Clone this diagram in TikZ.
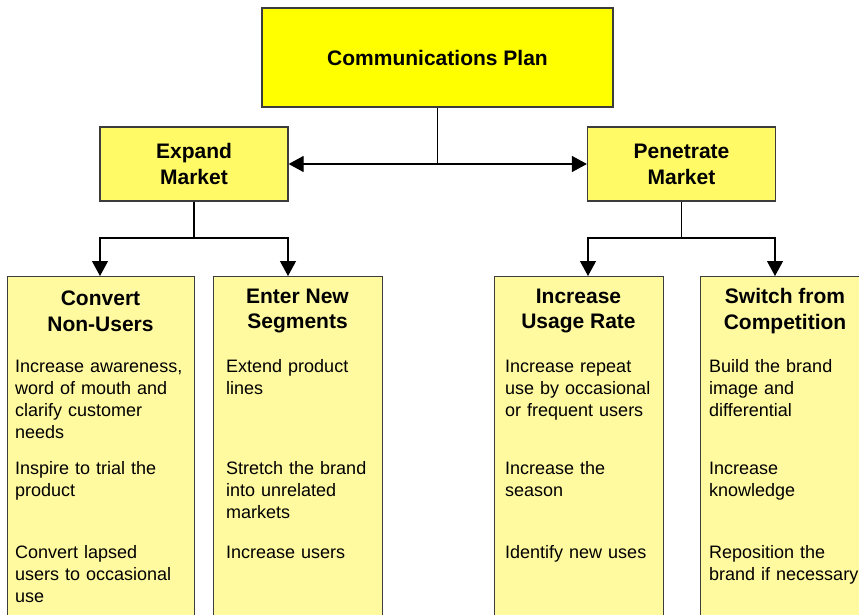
\documentclass[tikz,border=0pt]{standalone}
\usepackage{fontspec}
\setmainfont{Liberation Sans}
\usetikzlibrary{arrows.meta}
\definecolor{topY}{RGB}{255,255,0}
\definecolor{midY}{RGB}{255,250,102}
\definecolor{lowY}{RGB}{255,250,160}
\definecolor{edgeC}{RGB}{60,60,60}
\begin{document}
\begin{tikzpicture}[x=1pt,y=-1pt,
  box/.style={draw=edgeC,line width=1.2pt,inner sep=0pt},
  headtxt/.style={font=\fontsize{21}{25.8}\selectfont\bfseries,align=center},
  bodytxt/.style={font=\fontsize{18}{22.3}\selectfont,align=left,anchor=base west,inner sep=0pt,text width=200pt},
  conn/.style={line width=1.2pt,draw=black},
  arr/.style={conn,-{Triangle[length=15pt,width=16pt]}}]
\useasboundingbox (0,0) rectangle (859,615);
\clip (0,0) rectangle (859,615);
% top
\node[box,fill=topY,minimum width=351pt,minimum height=99pt,headtxt] (plan) at (437.5,57.5) {Communications Plan};
% middle
\node[box,fill=midY,minimum width=188pt,minimum height=74pt,headtxt] (expand) at (194,164) {Expand\\Market};
\node[box,fill=midY,minimum width=188pt,minimum height=74pt,headtxt] (penetrate) at (681.5,164) {Penetrate\\Market};
% bottom boxes
\node[box,fill=lowY,minimum width=187pt,minimum height=380pt,anchor=north west] (conv) at (7,276) {};
\node[box,fill=lowY,minimum width=169pt,minimum height=380pt,anchor=north west] (seg) at (213,276) {};
\node[box,fill=lowY,minimum width=169pt,minimum height=380pt,anchor=north west] (usage) at (494,276) {};
\node[box,fill=lowY,minimum width=170pt,minimum height=380pt,anchor=north west] (comp) at (700,276) {};
% headings
\node[headtxt] (convh) at (100.5,311.5) {Convert\\Non-Users};
\node[headtxt] (segh) at (297.5,311) {Enter New\\Segments};
\node[headtxt] (usageh) at (578.5,311) {Increase\\Usage Rate};
\node[headtxt] (comph) at (785,311) {Switch from\\Competition};
% body texts
\node[bodytxt] (c1) at (15,372) {Increase awareness,\\word of mouth and\\clarify customer\\needs};
\node[bodytxt] (c2) at (15,474) {Inspire to trial the\\product};
\node[bodytxt] (c3) at (15,558) {Convert lapsed\\users to occasional\\use};
\node[bodytxt] (s1) at (226,372) {Extend product\\lines};
\node[bodytxt] (s2) at (226,474) {Stretch the brand\\into unrelated\\markets};
\node[bodytxt] (s3) at (226,558) {Increase users};
\node[bodytxt] (u1) at (505,372) {Increase repeat\\use by occasional\\or frequent users};
\node[bodytxt] (u2) at (505,474) {Increase the\\season};
\node[bodytxt] (u3) at (505,558) {Identify new uses};
\node[bodytxt] (p1) at (709,372) {Build the brand\\image and\\differential};
\node[bodytxt] (p2) at (709,474) {Increase\\knowledge};
\node[bodytxt] (p3) at (709,558) {Reposition the\\brand if necessary};
% connectors top
\coordinate (hub) at (plan.south |- expand.east);
\draw[conn] (plan.south) -- (hub);
\draw[arr] (hub) -- (expand.east);
\draw[arr] (hub) -- (penetrate.west);
% left branch
\coordinate (lj) at (194,238);
\coordinate (l1) at (100,238);
\coordinate (l2) at (288,238);
\draw[conn] (expand.south) -- (lj);
\draw[arr] (lj) -- (l1) -- (l1 |- conv.north);
\draw[arr] (lj) -- (l2) -- (l2 |- seg.north);
% right branch
\coordinate (rj) at (681.5,238);
\coordinate (r1) at (588,238);
\coordinate (r2) at (775,238);
\draw[conn] (penetrate.south) -- (rj);
\draw[arr] (rj) -- (r1) -- (r1 |- usage.north);
\draw[arr] (rj) -- (r2) -- (r2 |- comp.north);
\end{tikzpicture}
\end{document}
